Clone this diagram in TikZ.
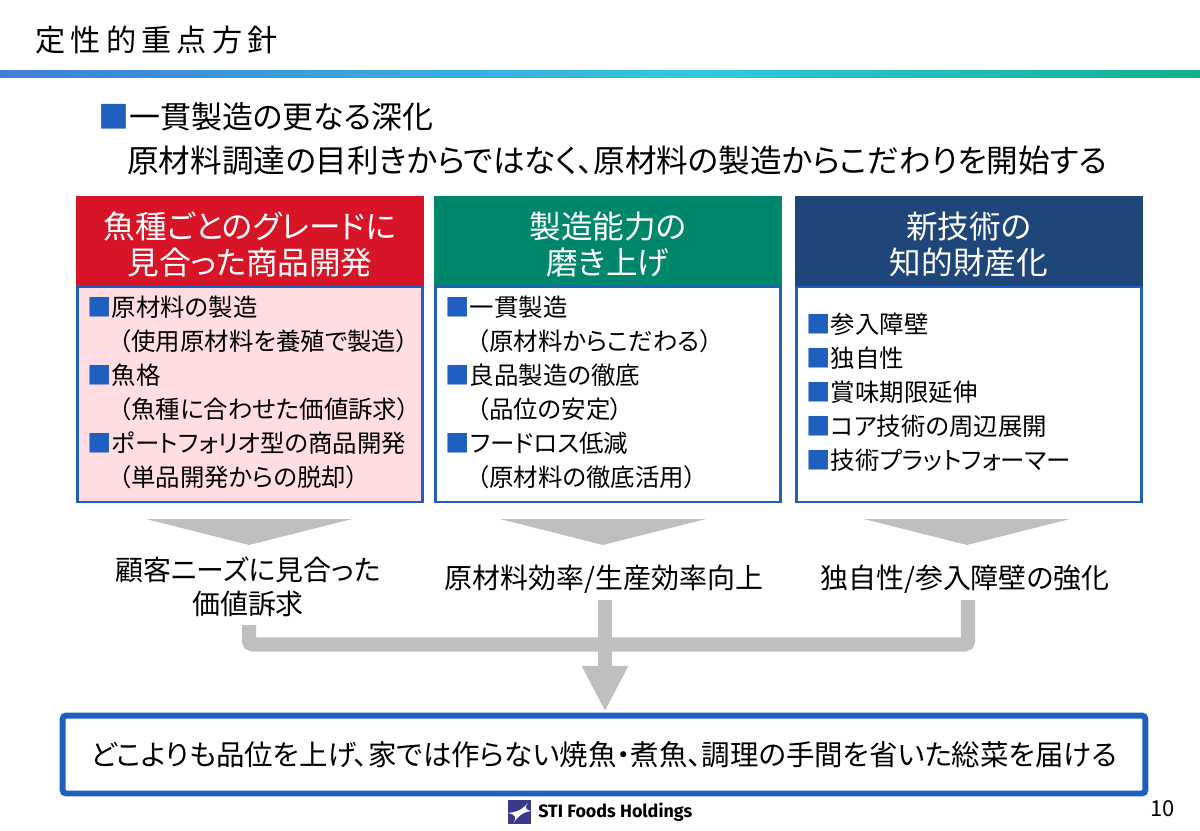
\documentclass[tikz,border=0pt]{standalone}
\usepackage{fontspec}
\setmainfont[RawFeature={+palt}]{Noto Sans CJK JP}
\newfontfamily\titlefont[LetterSpace=17]{Noto Sans CJK JP}
\newfontfamily\logofont{Fira Sans}
\usetikzlibrary{arrows.meta}
\definecolor{stiblue}{HTML}{1F5FBF}
\definecolor{stired}{HTML}{D81527}
\definecolor{stigreen}{HTML}{00866B}
\definecolor{stinavy}{HTML}{1F4678}
\definecolor{stipink}{HTML}{FFDDE1}
\definecolor{stigray}{HTML}{BFBFBF}
\definecolor{barleft}{HTML}{3F7FD8}
\definecolor{barmid}{HTML}{34C6E0}
\definecolor{barright}{HTML}{10B08C}
\definecolor{logoblue}{HTML}{3A3A8C}
\newcommand{\bl}{\textcolor{stiblue}{■}}
\newcommand{\headtop}{\rule{0pt}{19.5pt}}
\tikzset{
    headbox/.style={minimum width=6.96cm,minimum height=1.8cm,inner sep=0pt,text=white,align=center,
        font=\fontsize{18}{20.4}\selectfont},
    bodybox/.style={draw=stiblue,line width=1.5pt,minimum width=6.9cm,minimum height=4.3cm,inner sep=0pt,
        text width=6.5cm,align=left,font=\fontsize{13.9}{19.4}\selectfont,execute at end node={\rule[-3.5pt]{0pt}{0pt}}},
    resulttext/.style={inner sep=0pt,align=center,font=\fontsize{15.9}{19.4}\selectfont},
    flowline/.style={stigray,line width=8pt,rounded corners=2pt},
}
\begin{document}
\begin{tikzpicture}[x=0.02cm,y=-0.02cm]
    \useasboundingbox (0,0) rectangle (1200,831);
    \node[anchor=west,inner sep=0pt,font=\titlefont\fontsize{17.2}{20}\selectfont] (title) at (35,40) {定性的重点方針};
    \shade[left color=barleft,right color=barmid] (0,71) rectangle (700,78);
    \shade[left color=barmid,right color=barright] (700,71) rectangle (1200,78);
    \node[anchor=west,inner sep=0pt,font=\fontsize{17.6}{20}\selectfont] (lead) at (98,117) {\bl 一貫製造の更なる深化};
    \node[anchor=west,inner sep=0pt,font=\fontsize{18}{20}\selectfont] (leadsub) at (127,161) {原材料調達の目利きからではなく、原材料の製造からこだわりを開始する};

    \node[bodybox,fill=stipink] (bodyA) at (250,394.5) {\bl 原材料の製造\\
        \hspace*{1.3em}（使用原材料を養殖で製造）\\\bl 魚格\\\hspace*{1.3em}（魚種に合わせた価値訴求）\\
        \bl ポートフォリオ型の商品開発\\\hspace*{1.3em}（単品開発からの脱却）};
    \node[bodybox] (bodyB) at (608,394.5) {\bl 一貫製造\\
        \hspace*{1.3em}（原材料からこだわる）\\\bl 良品製造の徹底\\\hspace*{1.3em}（品位の安定）\\
        \bl フードロス低減\\\hspace*{1.3em}（原材料の徹底活用）};
    \node[bodybox] (bodyC) at (969,394.5) {\bl 参入障壁\\\bl 独自性\\\bl 賞味期限延伸\\\bl コア技術の周辺展開\\\bl 技術プラットフォーマー};
    \node[headbox,fill=stired] (headA) at (250,241) {\headtop 魚種ごとのグレードに\\見合った商品開発};
    \node[headbox,fill=stigreen] (headB) at (608,241) {\headtop 製造能力の\\磨き上げ};
    \node[headbox,fill=stinavy] (headC) at (969,241) {\headtop 新技術の\\知的財産化};

    \foreach \x in {249,603,967} {
        \fill[stigray] (\x-103,519) -- (\x+103,519) -- (\x,545) -- cycle;
    }
    \node[resulttext] (resultA) at (248,587) {顧客ニーズに見合った\\価値訴求};
    \node[resulttext] (resultB) at (604,579) {原材料効率/生産効率向上};
    \node[resulttext] (resultC) at (965,579) {独自性/参入障壁の強化};

    \node[draw=stiblue,line width=3.4pt,rounded corners=2pt,minimum width=21.66cm,minimum height=1.56cm,inner sep=0pt,
        font=\fontsize{16.2}{20}\selectfont] (goal) at (604,754.5) {どこよりも品位を上げ、家では作らない焼魚・煮魚、調理の手間を省いた総菜を届ける};

    \coordinate (joinA) at (249,625);
    \coordinate (joinB) at (605,600);
    \coordinate (joinC) at (968,600);
    \draw[flowline] (joinA) |- (605,644.5) -| (joinC);
    \draw[flowline,-{Triangle[length=26pt,width=24.5pt]},shorten >=0.5pt] (joinB) -- (goal.north -| joinB);

    \fill[logoblue] (508,800) rectangle (531,824);
    \fill[white] (528,803) .. controls (525,807) and (524,809) .. (531,811) .. controls (525,812) and (521,813) .. (514,822)
        .. controls (516,818) and (517,815) .. (508,813) .. controls (516,812) and (521,811) .. (528,803);
    \node[anchor=west,inner sep=0pt,font=\logofont\bfseries\fontsize{10.2}{12}\selectfont] (logo) at (538,812) {STI Foods Holdings};
    \node[anchor=east,inner sep=0pt,font=\fontsize{12.5}{14}\selectfont] (page) at (1175,809) {10};
\end{tikzpicture}
\end{document}
